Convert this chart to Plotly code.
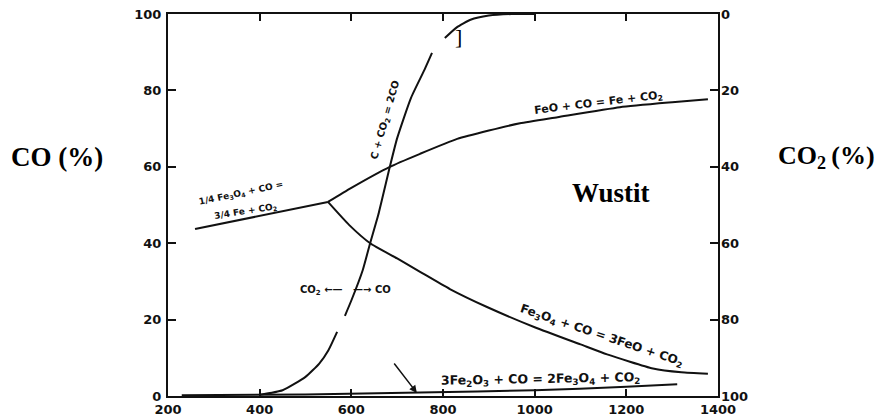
import plotly.graph_objects as go

# ---- data (temperature in deg C, CO in %) ----
temp_boudouard = [400, 450, 500, 530, 550, 569, None, 586, 600, 625, 641, 660, 684, 700, 730, 760, 776, None, 804, 830, 860, 900, 950, 1000]
co_boudouard = [0.3, 1.5, 5, 8.5, 12, 16.8, None, 21, 25, 33, 40, 48, 60, 67.5, 78, 85.5, 89.8, None, 93.7, 96.5, 98.5, 99.6, 100, 100]

temp_feo_fe = [549, 600, 684, 750, 831, 900, 968, 1050, 1186, 1300, 1378]
co_feo_fe = [50.8, 54.5, 60, 63.4, 67.3, 69.5, 71.4, 73.0, 75.6, 76.9, 77.7]

temp_fe3o4_fe = [259, 549]
co_fe3o4_fe = [43.7, 50.8]

temp_fe3o4_feo = [549, 595, 641, 700, 750, 815, 896, 1000, 1100, 1158, 1258, 1320, 1378]
co_fe3o4_feo = [50.8, 44.8, 40, 36, 32.5, 28, 23.3, 18, 13.5, 10.9, 7.2, 6.2, 5.8]

temp_fe2o3_fe3o4 = [230, 500, 750, 1000, 1200, 1311]
co_fe2o3_fe3o4 = [0.2, 0.4, 0.9, 1.5, 2.4, 3.1]

x_ticks = [200, 400, 600, 800, 1000, 1200, 1400]
co_ticks = [0, 20, 40, 60, 80, 100]
co2_ticks = [0, 20, 40, 60, 80, 100]

LINE = dict(color="#111111", width=2, shape="spline", smoothing=0.5)
TICKFONT = dict(family="DejaVu Sans", size=13, color="#111111", weight="bold")
LBL = dict(family="DejaVu Sans", size=10, color="#111111", weight="bold")
SERIF = dict(family="Liberation Serif", size=27, color="#000000", weight="bold")

fig = go.Figure()
for xs, ys in [(temp_boudouard, co_boudouard), (temp_feo_fe, co_feo_fe),
               (temp_fe3o4_fe, co_fe3o4_fe), (temp_fe3o4_feo, co_fe3o4_feo),
               (temp_fe2o3_fe3o4, co_fe2o3_fe3o4)]:
    fig.add_trace(go.Scatter(x=xs, y=ys, mode="lines", line=LINE,
                             connectgaps=False, showlegend=False, hoverinfo="skip"))
# dummy trace for the right (CO2) axis
fig.add_trace(go.Scatter(x=[None], y=[None], yaxis="y2", showlegend=False))

ann = []
def txt(x, y, t, angle=0, font=LBL, **kw):
    ann.append(dict(x=x, y=y, text=t, textangle=angle, showarrow=False, font=font,
                    xanchor="center", yanchor="middle",
                    xref=kw.pop("xref", "x"), yref=kw.pop("yref", "y"), **kw))

txt(676, 72.3, "C + CO<sub>2</sub> = 2CO", -74)
txt(1140, 76.6, "FeO + CO = Fe + CO<sub>2</sub>", -7, font=dict(LBL, size=11))
txt(359, 53.1, "1/4 Fe<sub>3</sub>O<sub>4</sub> + CO =", -12, font=dict(LBL, size=9))
txt(370, 48.4, "3/4 Fe + CO<sub>2</sub>", -9, font=dict(LBL, size=9))
txt(1145, 15.7, "Fe<sub>3</sub>O<sub>4</sub> + CO = 3FeO + CO<sub>2</sub>", 18.5, font=dict(LBL, size=12))
txt(1012, 4.2, "3Fe<sub>2</sub>O<sub>3</sub> + CO = 2Fe<sub>3</sub>O<sub>4</sub> + CO<sub>2</sub>", -1, font=dict(LBL, size=12.5))
txt(588, 27.5, "CO<sub>2</sub> \u2190\u2014   \u2014\u2192 CO", 0)
txt(1166, 53.1, "Wustit", 0, font=SERIF)
txt(833, 94, "]", 0, font=dict(SERIF, size=22, weight="normal"))
txt(-0.2018, 0.6257, "CO (%)", 0, font=SERIF, xref="paper", yref="paper")
txt(1.198, 0.6257, "CO<sub>2</sub>\u2009(%)", 0, font=dict(SERIF, size=26), xref="paper", yref="paper")

ann.append(dict(x=743, y=0.8, ax=691, ay=8.9, axref="x", ayref="y", xref="x", yref="y",
                showarrow=True, arrowhead=2, arrowsize=1, arrowwidth=1.5,
                arrowcolor="#111111", text=""))

# page body has an 8px margin, so the figure is made 8px smaller on each side
fig.update_layout(
    width=875, height=407,
    margin=dict(l=160, r=165, t=6, b=19),
    paper_bgcolor="white", plot_bgcolor="white",
    annotations=ann,
    xaxis=dict(range=[200, 1400], tickvals=x_ticks, ticktext=[str(v) for v in x_ticks],
               ticks="inside", ticklen=7, tickwidth=2, tickcolor="#111111",
               showline=True, linewidth=2, linecolor="#111111", mirror="ticks",
               showgrid=False, zeroline=False, tickfont=TICKFONT, automargin=False,
               ticklabelstandoff=0, ticklabeloverflow="allow"),
    yaxis=dict(range=[0, 100], tickvals=co_ticks, ticktext=[str(v) for v in co_ticks],
               ticks="inside", ticklen=8, tickwidth=2, tickcolor="#111111",
               showline=True, linewidth=2, linecolor="#111111", mirror="ticks",
               showgrid=False, zeroline=False, tickfont=TICKFONT, automargin=False,
               ticklabelstandoff=2, ticklabeloverflow="allow"),
    yaxis2=dict(range=[100, 0], overlaying="y", side="right", anchor="x",
                tickvals=co2_ticks, ticktext=[str(v) for v in co2_ticks],
                ticks="", showline=False, showgrid=False, zeroline=False,
                tickfont=TICKFONT, automargin=False, ticklabelstandoff=2,
                ticklabeloverflow="allow"),
)

fig.write_html("out.html")
